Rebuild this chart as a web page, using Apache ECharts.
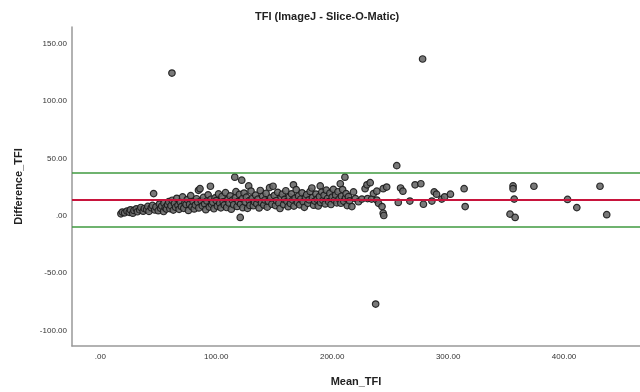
<!DOCTYPE html>
<html>
<head>
<meta charset="utf-8">
<script src="https://cdn.jsdelivr.net/npm/echarts@6/dist/echarts.min.js"></script>
<style>html,body{margin:0;padding:0;background:#fff}#c{width:640px;height:392px}</style>
</head>
<body>
<div id="c"></div>
<script>
// [Mean_TFI, Difference_TFI] pairs
const clusterLow = [
 [17.8,1.7],[19,3.2],[21,2.5],[23,4.1],[25,3.0],[26,5.2],[28,2.2],[29,4.6],[31,6.0],[32,3.5],[34,5.1],[35,7.2],[37,4.0],[38,6.3],[40,5.5],[41,8.1],[42,3.8],[44,6.9],[45,9.0],[46,19.3],[47,5.0],[48,7.7],[50,4.4],[51,10.2],[52,6.6],[53,8.4],[54.6,3.7],[55,11.0],[56,7.1],[57,5.8],[58,9.5],[59,12.3],[60,6.2],
 [61,8.8],[62,13.5],[63,4.9],[64,10.7],[65,7.4],[66,15.2],[67,9.1],[68,5.6],[69,12.0],[70,8.0],[71,16.4],[72,6.5],[73,11.3],[74,9.8],[75,14.1],[76,4.6],[77,10.0],[78,17.5],[79,7.8],[80,12.6],[81,5.9],[82,9.3],[83,14.8],[84,11.7],[84.7,22.2],[85,6.8],[86,23.6],[87,13.0],[88,8.6],[89,16.0],[90,10.4],[91,5.3],[92,12.9],[93,18.2],[94,7.6],[95,25.7],[95.5,14.4],[96,9.9],[97,11.8],[98,6.1],[99,15.6],[100,13.2],[101,8.3],[102,19.0],[103,10.9],[104,6.9],[105,16.8],[106,12.2],[107,9.4],[108,20.1],[109,7.2],[110,14.0],[111,11.1],[112,17.3],[113,5.7],[114,13.6],[115,9.6],[116,33.6],[116.5,15.8],[117,21.0],[118,8.1],[119,12.5],[120.7,-1.5],[120,18.6]
];
const clusterMid = [
 [121,10.2],[122,31.0],[122.5,14.9],[123,7.0],[124,19.8],[125,11.9],[126,16.2],[127,6.4],[128,26.0],[128.5,13.1],[129,9.0],[130,21.5],[131,15.0],[132,8.7],[133,12.0],[134,18.0],[135,10.5],[136,14.5],[137,6.8],[138,22.0],[139,11.4],[140,16.9],[141,9.3],[142,13.8],[143,19.5],[144,7.5],[145,12.7],[146,24.5],[147,15.5],[148,10.0],[149,25.7],[150,17.6],[151,8.9],[152,13.3],[153,20.4],[154,11.0],[155,6.3],[156,15.9],[157,18.8],[158,9.7],[159,14.2],[160,21.8],[161,12.4],[162,7.9],[163,16.5],[164,10.6],[165,19.1],[166,13.7],[166.6,27.0],[167,8.4],[168,15.3],[169,22.7],[170,11.6],[171,17.2],[172,9.5],[173,14.6],[174,20.0],[175,12.1],[176,7.3],[177,16.1],[178,18.4],[179,10.8],[180,13.9],
 [181,21.2],[182.5,24.2],[183,15.7],[184,9.2],[185,12.8],[186,18.9],[187,14.3],[188,8.5],[189,16.7],[189.7,26.0],[190,11.5],[191,20.6],[192,13.4],[193,17.8],[194,10.3],[195,22.3],[196,15.1],[197,12.3],[198,19.7],[199,9.8],[200,16.3],[201,23.0],[202,13.5],[203,18.1],[204,11.2],[205,20.9],[206,14.7],[207,27.9],[207.5,10.9],[208,17.0],[209,22.8],[210,12.6],[211,33.6],[211.5,15.4],[212,19.3],[213,8.8],[214,16.6],[215,13.0]
];
const clusterHigh = [
 [217,8.0],[218.4,20.8],[220,15.0],[222.7,12.2],[225.6,14.5],[228.4,23.6],[230,27.0],[230.5,15.0],[232.8,28.8],[234,14.5],[235.6,19.3],[238.5,21.4],[238.5,13.7],[240,10.8],[243,8.0],[244,23.6],[244,2.2],[244.5,0.2],[247,25.0],[255.7,43.7],[257,11.6],[259,24.2],[261,21.4],[267,12.8],[271.5,27.0],[276.5,27.9],[278.7,10.0],
 [286,12.8],[288,20.8],[290,18.8],[294.5,14.5],[297,16.5],[302,18.8],[313.8,23.6],[314.7,8.0],[353.4,1.4],[356,26.0],[356,23.6],[357,14.5],[357.8,-1.5],[374,25.7],[403,14.2],[411,7.1],[431,25.7],[436.8,0.9]
];
const outliers = [[61.8,124.4],[278,136.7],[237.5,-77]];
const meanDiff = 14.2;
const upperLoA = 37.3;
const lowerLoA = -9.4;
const xTicks = [0,100,200,300,400];
const yTicks = [-100,-50,0,50,100,150];

const fmt = v => v === 0 ? '.00' : v.toFixed(2);
const chart = echarts.init(document.getElementById('c'), null, {renderer:'canvas'});
chart.setOption({
  animation:false,
  backgroundColor:'#fff',
  title:{text:'TFI (ImageJ - Slice-O-Matic)', left:250, top:6,
    textStyle:{fontFamily:'Liberation Sans, Arial', fontSize:11, fontWeight:'bold', color:'#222'}},
  grid:{left:72, right:0, top:27, bottom:41},
  xAxis:{type:'value', min:-24.4, max:465.5, name:'Mean_TFI', nameLocation:'middle', nameGap:30,
    nameTextStyle:{fontFamily:'Liberation Sans, Arial', fontSize:11, fontWeight:'bold', color:'#222'},
    axisLine:{show:true, onZero:false, lineStyle:{color:'#999', width:1.5}},
    axisTick:{show:false}, splitLine:{show:false},
    axisLabel:{customValues:xTicks, formatter:fmt, fontFamily:'Liberation Sans, Arial', fontSize:8, color:'#333', margin:7}},
  yAxis:{type:'value', min:-113.6, max:164.6, name:'Difference_TFI', nameLocation:'middle', nameGap:48,
    nameTextStyle:{fontFamily:'Liberation Sans, Arial', fontSize:11, fontWeight:'bold', color:'#222'},
    axisLine:{show:true, onZero:false, lineStyle:{color:'#999', width:1.5}},
    axisTick:{show:false}, splitLine:{show:false},
    axisLabel:{customValues:yTicks, formatter:fmt, fontFamily:'Liberation Sans, Arial', fontSize:8, color:'#333', margin:5}},
  series:[{
    type:'scatter', symbolSize:6.5,
    data:clusterLow.concat(clusterMid, clusterHigh, outliers),
    itemStyle:{color:'#6a6a6a', borderColor:'#1a1a1a', borderWidth:1.2, opacity:0.9},
    markLine:{silent:true, symbol:['none','none'], label:{show:false}, animation:false,
      data:[
        {yAxis:upperLoA, lineStyle:{color:'#3f9a3f', width:1.5, type:'solid'}},
        {yAxis:lowerLoA, lineStyle:{color:'#3f9a3f', width:1.5, type:'solid'}},
        {yAxis:meanDiff, lineStyle:{color:'#c8143c', width:2, type:'solid'}}
      ]}
  }]
});
</script>
</body>
</html>
